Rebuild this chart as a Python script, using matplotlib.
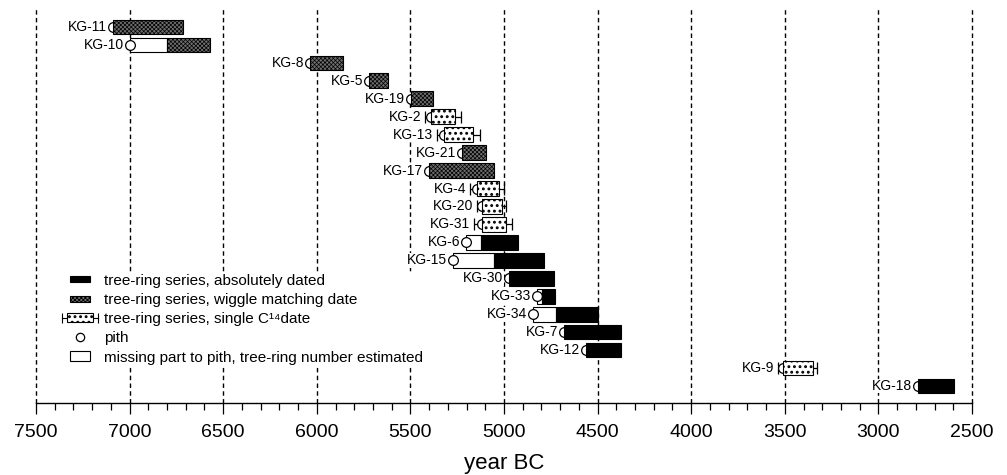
import matplotlib
matplotlib.use("Agg")
import matplotlib.pyplot as plt
from matplotlib.patches import Rectangle, Patch
from matplotlib.lines import Line2D
from matplotlib.legend_handler import HandlerPatch, HandlerLine2D, HandlerBase
from matplotlib.ticker import MultipleLocator

plt.rcParams['font.family'] = ['Liberation Sans', 'DejaVu Sans']
plt.rcParams['hatch.linewidth'] = 0.6

# ---------------- data (years BC) ----------------
labels = ['KG-11', 'KG-10', 'KG-8', 'KG-5', 'KG-19', 'KG-2', 'KG-13', 'KG-21',
          'KG-17', 'KG-4', 'KG-20', 'KG-31', 'KG-6', 'KG-15', 'KG-30', 'KG-33',
          'KG-34', 'KG-7', 'KG-12', 'KG-9', 'KG-18']
kinds = ['wiggle', 'wiggle', 'wiggle', 'wiggle', 'wiggle', 'c14', 'c14', 'wiggle',
         'wiggle', 'c14', 'c14', 'c14', 'abs', 'abs', 'abs', 'abs',
         'abs', 'abs', 'abs', 'c14', 'abs']
pith_year = [7090, 7000, 6036, 5720, 5499, 5392, 5319, 5223,
             5401, 5143, 5119, 5119, 5203, 5274, 4973, 4825,
             4847, 4678, 4564, 3511, 2787]
series_start = [7090, 6800, 6036, 5720, 5499, 5392, 5319, 5223,
                5401, 5143, 5119, 5119, 5124, 5053, 4973, 4795,
                4722, 4678, 4564, 3511, 2787]
series_end = [6713, 6570, 5862, 5621, 5378, 5262, 5164, 5096,
              5053, 5027, 5012, 4991, 4927, 4786, 4733, 4726,
              4500, 4375, 4375, 3351, 2596]
c14_older = [None, None, None, None, None, 5420, 5359, None,
             None, 5182, 5146, 5159, None, None, None, None,
             None, None, None, 3538, None]
c14_younger = [None, None, None, None, None, 5230, 5128, None,
               None, 4998, 4991, 4957, None, None, None, None,
               None, None, None, 3326, None]

legend_labels = ['tree-ring series, absolutely dated',
                 'tree-ring series, wiggle matching date',
                 'tree-ring series, single C\u00b9\u2074date',
                 'pith',
                 'missing part to pith, tree-ring number estimated']

# ---------------- styles ----------------
EDGE_LW = 0.8
styles = {
    'abs': dict(facecolor='black', edgecolor='black', linewidth=EDGE_LW),
    'wiggle': dict(facecolor='#6e6e6e', edgecolor='black', hatch='xxxxxxxx', linewidth=EDGE_LW),
    'c14': dict(facecolor='white', edgecolor='black', hatch='...', linewidth=EDGE_LW),
}
hatch_lw = {'abs': 0.6, 'wiggle': 0.5, 'c14': 1.3}
missing_style = dict(facecolor='white', edgecolor='black', linewidth=EDGE_LW)
BAR_H = 0.82
PITH_MS = 7
label_bbox = dict(facecolor='white', edgecolor='none', pad=0.3)


def set_hlw(artist, lw):
    if hasattr(artist, 'set_hatch_linewidth'):
        artist.set_hatch_linewidth(lw)


fig = plt.figure(figsize=(10.07, 4.75), dpi=100)
ax = fig.add_axes([0.03575, 0.1516, 0.9295, 0.8316])

ax.set_xlim(7500, 2500)
ax.set_ylim(len(labels) - 0.05, -1.06)

# dashed grid lines
for xv in range(2500, 7501, 500):
    ax.axvline(xv, color='black', lw=1.0, linestyle=(0, (3.2, 2.4)), zorder=0.5,
               clip_on=False)

for i, lab in enumerate(labels):
    p, s, e, k = pith_year[i], series_start[i], series_end[i], kinds[i]
    if p > s:
        ax.barh(i, p - s, left=s, height=BAR_H, zorder=1, **missing_style)
    lo, hi = c14_older[i], c14_younger[i]
    if lo is not None:
        c = (lo + hi) / 2
        ax.errorbar(c, i, xerr=[[lo - c], [c - hi]], fmt='none', ecolor='black',
                    elinewidth=0.9, capsize=4.5, capthick=0.9, zorder=1.5)
    ax.plot([p], [i], marker='o', ms=PITH_MS, mfc='white', mec='black', mew=0.9,
            linestyle='none', zorder=2)
    with plt.rc_context({'hatch.linewidth': hatch_lw[k]}):
        bars = ax.barh(i, s - e, left=e, height=BAR_H, zorder=3, **styles[k])
    for b in bars:
        set_hlw(b, hatch_lw[k])
    # label
    if lo is not None and lo > p + 25:
        ax.annotate(lab, xy=(lo, i), xytext=(-2.8, 0), textcoords='offset points',
                    ha='right', va='center', fontsize=10, bbox=label_bbox, zorder=1.2)
    else:
        ax.annotate(lab, xy=(p, i), xytext=(-PITH_MS / 2 - 0.7, 0), textcoords='offset points',
                    ha='right', va='center', fontsize=10, bbox=label_bbox, zorder=1.2)

# axes cosmetics
for sp in ['top', 'left', 'right']:
    ax.spines[sp].set_visible(False)
ax.spines['bottom'].set_linewidth(1.0)
ax.set_yticks([])
ax.xaxis.set_major_locator(MultipleLocator(500))
ax.xaxis.set_minor_locator(MultipleLocator(100))
ax.tick_params(axis='x', which='major', direction='out', length=8, width=0.9,
               labelsize=14, pad=7)
ax.tick_params(axis='x', which='minor', direction='out', length=5, width=0.9)
ax.set_xlabel('year BC', fontsize=16, labelpad=9)


# ---------------- legend ----------------
def rect_func(w_pt, h_pt):
    def f(legend, orig_handle, xdescent, ydescent, width, height, fontsize):
        cx = width / 2 - xdescent
        cy = height / 2 - ydescent
        return Rectangle((cx - w_pt / 2, cy - h_pt / 2), w_pt, h_pt)
    return f


class HandlerC14(HandlerBase):
    def create_artists(self, legend, orig_handle, xdescent, ydescent, width, height,
                       fontsize, trans):
        cx = width / 2 - xdescent
        cy = height / 2 - ydescent
        bw, bh, cw, ch = 19.4, 6.5, 26.6, 7.0
        line = Line2D([cx - cw / 2, cx + cw / 2], [cy, cy], color='black', lw=0.8,
                      marker='|', markersize=ch, markeredgewidth=0.8)
        with plt.rc_context({'hatch.linewidth': hatch_lw['c14']}):
            box = Rectangle((cx - bw / 2, cy - bh / 2), bw, bh, facecolor='white',
                            edgecolor='black', hatch='...', lw=0.8)
        set_hlw(box, hatch_lw['c14'])
        line.set_transform(trans)
        box.set_transform(trans)
        return [line, box]


with plt.rc_context({'hatch.linewidth': hatch_lw['wiggle']}):
    h_wig = Patch(**styles['wiggle'])
set_hlw(h_wig, hatch_lw['wiggle'])
h_abs = Patch(**styles['abs'])
h_c14 = Patch(**styles['c14'])
h_pith = Line2D([], [], marker='o', ms=6, mfc='white', mec='black', mew=0.9, linestyle='none')
h_miss = Patch(**missing_style)

leg = ax.legend([h_abs, h_wig, h_c14, h_pith, h_miss], legend_labels,
                handler_map={h_abs: HandlerPatch(patch_func=rect_func(14.4, 4.3)),
                             h_wig: HandlerPatch(patch_func=rect_func(14.4, 4.3)),
                             h_c14: HandlerC14(),
                             h_pith: HandlerLine2D(numpoints=1),
                             h_miss: HandlerPatch(patch_func=rect_func(14.4, 7.2))},
                loc='upper left', bbox_to_anchor=(0.0267, 0.327), frameon=True,
                fancybox=False, framealpha=1.0, edgecolor='none', facecolor='white',
                fontsize=11, handlelength=2.49, handletextpad=0.33, labelspacing=0.34,
                borderpad=0, borderaxespad=0)

fig.savefig('out.png', dpi=100)
